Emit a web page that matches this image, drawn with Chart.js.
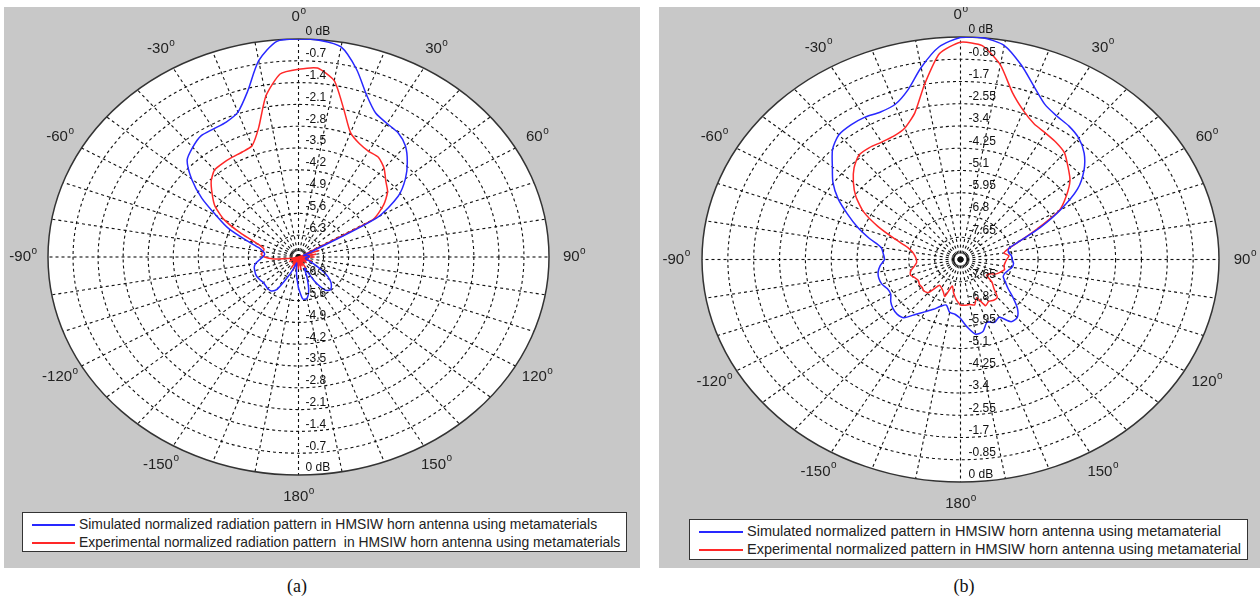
<!DOCTYPE html>
<html>
<head>
<meta charset="utf-8">
<script src="https://cdn.jsdelivr.net/npm/chart.js@4.4.1/dist/chart.umd.min.js"></script>
<style>
  body { margin: 0; width: 1260px; height: 600px; background: #fff; position: relative; overflow: hidden;
         font-family: "Liberation Sans", Arial, sans-serif; }
  .panel { position: absolute; top: 7px; height: 561px; background: #c8c8c8; }
  #panelA { left: 4px; width: 636px; }
  #panelB { left: 659px; width: 601px; }
  .panel canvas { position: absolute; left: 0; top: 0; }
  .legend { position: absolute; background: #fff; border: 1px solid #333; box-sizing: border-box; }
  .legend .item { position: absolute; white-space: nowrap; line-height: 18px; color: #222; }
  .legend .swatch { position: absolute; height: 1.5px; }
  .caption { position: absolute; top: 576px; width: 40px; text-align: center;
             font-family: "Liberation Serif", "Times New Roman", serif; font-size: 18px; color: #111; }
</style>
</head>
<body>
<div class="panel" id="panelA">
  <canvas id="chartA" width="636" height="561"></canvas>
  <div class="legend" style="left:18px; top:505px; width:605px; height:40px;">
    <div class="swatch" style="left:9px; top:11px; width:43px; background:rgb(40,40,255);"></div>
    <div class="item" style="left:56px; top:2px; font-size:13.9px;">Simulated normalized radiation pattern in HMSIW horn antenna using metamaterials</div>
    <div class="swatch" style="left:9px; top:29px; width:43px; background:rgb(255,40,40);"></div>
    <div class="item" style="left:56px; top:20px; font-size:13.9px;">Experimental normalized radiation pattern&nbsp; in HMSIW horn antenna using metamaterials</div>
  </div>
</div>
<div class="panel" id="panelB">
  <canvas id="chartB" width="601" height="561"></canvas>
  <div class="legend" style="left:30px; top:512px; width:559px; height:41px;">
    <div class="swatch" style="left:9px; top:11px; width:44px; background:rgb(40,40,255);"></div>
    <div class="item" style="left:57px; top:2px; font-size:14.5px;">Simulated normalized pattern in HMSIW horn antenna using metamaterial</div>
    <div class="swatch" style="left:9px; top:29px; width:44px; background:rgb(255,40,40);"></div>
    <div class="item" style="left:57px; top:20px; font-size:14.5px;">Experimental normalized pattern in HMSIW horn antenna using metamaterial</div>
  </div>
</div>
<div class="caption" style="left:277px;">(a)</div>
<div class="caption" style="left:944px;">(b)</div>

<script>
// Angles (deg, 0 = top, clockwise) shared by every series
const angles = [
  -180, -175, -170, -165, -160, -155, -150, -145, -140, -135, -130, -125,
  -120, -115, -110, -105, -100, -95, -90, -85, -80, -75, -70, -65,
  -60, -55, -50, -45, -40, -35, -30, -25, -20, -15, -10, -5,
  0, 5, 10, 15, 20, 25, 30, 35, 40, 45, 50, 55,
  60, 65, 70, 75, 80, 85, 90, 95, 100, 105, 110, 115,
  120, 125, 130, 135, 140, 145, 150, 155, 160, 165, 170, 175,
  180
];

// (a) normalized pattern, dB
const simA = [
  -6.0, -6.4, -6.7, -6.8, -6.6, -6.3, -5.8, -5.67, -5.67, -5.7, -5.72, -5.7,
  -5.68, -5.68, -5.7, -5.72, -5.78, -5.9, -6.0, -6.05, -6.0, -5.85, -5.45, -4.85,
  -4.35, -3.7, -3.1, -2.6, -2.4, -2.25, -2.25, -2.22, -2.05, -1.5, -0.6, -0.05,
  0, -0.02, -0.15, -0.75, -1.45, -1.9, -2.05, -2.14, -2.35, -2.7, -3.1, -3.6,
  -4.45, -6.6, -6.85, -6.8, -6.75, -6.7, -6.7, -6.75, -6.8, -6.8, -6.75, -6.6,
  -6.4, -6.1, -5.85, -5.7, -5.62, -5.7, -6.1, -6.6, -6.3, -5.9, -5.65, -5.65,
  -6.0
];
const measA = [
  -6.6, -7, -6.6, -7, -6.55, -7, -6.6, -7, -6.75, -7, -6.8, -7,
  -6.7, -7, -6.8, -7, -6.7, -6.3, -6.05, -5.95, -6.0, -6.0, -5.8, -5.25,
  -4.6, -4.15, -3.85, -3.55, -3.35, -3.32, -3.3, -3.28, -3.2, -2.7, -1.75, -1.1,
  -0.97, -0.91, -1.25, -2.1, -2.75, -2.98, -3.08, -3.1, -3.28, -3.55, -3.75, -4.1,
  -4.6, -6.8, -6.4, -7, -6.5, -7, -6.55, -7, -6.7, -7, -6.6, -7,
  -6.75, -7, -6.7, -7, -6.8, -7, -6.6, -7, -6.7, -6.9, -6.6, -7,
  -6.6
];

// (b) normalized pattern, dB
const simB = [
  -6.25, -6.4, -6.45, -6.7, -6.6, -6.4, -6.2, -5.95, -5.6, -5.55, -5.6, -5.7,
  -5.85, -5.85, -5.75, -5.72, -5.75, -5.85, -6.0, -5.95, -5.85, -5.4, -4.9, -4.4,
  -3.85, -3.38, -3.0, -2.55, -2.28, -2.22, -2.22, -2.28, -2.2, -1.8, -1.05, -0.35,
  -0.02, 0, -0.2, -0.8, -1.45, -1.95, -2.17, -2.28, -2.45, -2.75, -3.2, -3.8,
  -4.7, -5.6, -6.4, -6.85, -6.9, -6.82, -6.8, -6.75, -6.78, -6.88, -6.95, -6.95,
  -6.8, -6.6, -6.25, -5.85, -5.6, -5.6, -5.95, -5.85, -5.95, -5.65, -5.6, -5.9,
  -6.25
];
const measB = [
  -6.75, -6.95, -7.2, -7.45, -7.0, -7.15, -7.25, -7.3, -6.85, -6.8, -6.85, -6.85,
  -6.9, -6.85, -6.75, -6.8, -6.95, -7.05, -7.05, -7.0, -6.9, -6.7, -6.2, -5.5,
  -4.8, -4.3, -3.9, -3.55, -3.3, -3.28, -3.32, -3.3, -3.15, -2.7, -1.7, -0.6,
  -0.2, -0.3, -0.95, -1.9, -2.45, -2.78, -2.92, -3.03, -3.18, -3.5, -3.8, -4.25,
  -4.75, -5.7, -6.4, -6.85, -7.05, -6.9, -6.98, -7.03, -7.05, -7.0, -7.1, -7.2,
  -7.4, -7.45, -7.15, -6.95, -6.62, -6.6, -6.65, -6.55, -6.95, -6.7, -6.75, -6.75,
  -6.75
];

// tick labels
const angleTicks = [0, 30, 60, 90, 120, 150, 180, -150, -120, -90, -60, -30];
const dbTicksA = [0, -0.7, -1.4, -2.1, -2.8, -3.5, -4.2, -4.9, -5.6, -6.3];
const dbTicksB = [0, -0.85, -1.7, -2.55, -3.4, -4.25, -5.1, -5.95, -6.8, -7.65];

const BLUE = 'rgb(40,40,255)';
const RED = 'rgb(255,40,40)';

// polar (deg, dB) -> x/y in dB-above-floor units, mapped by the linear scales
function toXY(db, floor) {
  return angles.map((a, i) => {
    const r = Math.max(0, db[i] - floor);
    const t = a * Math.PI / 180;
    return { x: r * Math.sin(t), y: r * Math.cos(t) };
  });
}

function geom(chart, range) {
  const xs = chart.scales.x, ys = chart.scales.y;
  const cx = xs.getPixelForValue(0), cy = ys.getPixelForValue(0);
  return { cx, cy, rx: xs.getPixelForValue(range) - cx, ry: cy - ys.getPixelForValue(range) };
}

const polarGrid = {
  id: 'polarGrid',
  beforeDatasetsDraw(chart, args, opts) {
    const ctx = chart.ctx;
    const { cx, cy, rx, ry } = geom(chart, opts.range);
    ctx.save();
    ctx.beginPath();
    ctx.ellipse(cx, cy, rx, ry, 0, 0, 2 * Math.PI);
    ctx.fillStyle = '#fff';
    ctx.fill();

    ctx.setLineDash([3, 3]);
    ctx.strokeStyle = '#111';
    ctx.lineWidth = 1.1;
    for (let k = 1; k < opts.ticks.length; k++) {
      const f = k / opts.ticks.length;
      ctx.beginPath();
      ctx.ellipse(cx, cy, rx * f, ry * f, 0, 0, 2 * Math.PI);
      ctx.stroke();
    }
    for (let a = 0; a < 360; a += 10) {
      const t = a * Math.PI / 180;
      ctx.beginPath();
      ctx.moveTo(cx, cy);
      ctx.lineTo(cx + rx * Math.sin(t), cy - ry * Math.cos(t));
      ctx.stroke();
    }
    ctx.setLineDash([]);
    ctx.strokeStyle = '#333';
    ctx.lineWidth = 1.5;
    ctx.beginPath();
    ctx.ellipse(cx, cy, rx, ry, 0, 0, 2 * Math.PI);
    ctx.stroke();
    ctx.restore();
  },
  afterDatasetsDraw(chart, args, opts) {
    const ctx = chart.ctx;
    const { cx, cy, rx, ry } = geom(chart, opts.range);
    ctx.save();
    ctx.fillStyle = '#222';
    ctx.textBaseline = 'middle';
    ctx.textAlign = 'left';
    // angle labels at 1.1 R
    angleTicks.forEach(a => {
      const t = a * Math.PI / 180;
      const px = cx + 1.1 * rx * Math.sin(t), py = cy - 1.1 * ry * Math.cos(t);
      const s = String(a);
      ctx.font = '15px "Liberation Sans", Arial, sans-serif';
      const w1 = ctx.measureText(s).width;
      ctx.font = '10px "Liberation Sans", Arial, sans-serif';
      const w2 = ctx.measureText('o').width;
      const x0 = px - (w1 + w2) / 2;
      ctx.font = '15px "Liberation Sans", Arial, sans-serif';
      ctx.fillText(s, x0, py);
      ctx.font = '10px "Liberation Sans", Arial, sans-serif';
      ctx.fillText('o', x0 + w1 + 0.5, py - 6);
    });
    // dB labels along the 0 / 180 line
    ctx.font = '12px "Liberation Sans", Arial, sans-serif';
    ctx.fillStyle = '#111';
    const n = opts.ticks.length;
    opts.ticks.forEach((v, k) => {
      const f = (n - k) / n;
      const s = v === 0 ? '0 dB' : String(v);
      ctx.fillText(s, cx + opts.labelDx, cy - f * ry - 7);
      ctx.fillText(s, cx + opts.labelDx, cy + f * ry - 7);
    });
    ctx.restore();
  }
};

function makeChart(id, sim, meas, ticks, padding, labelDx) {
  const floor = ticks[ticks.length - 1] - (ticks[0] - ticks[1]);
  const range = -floor;
  new Chart(document.getElementById(id), {
    type: 'scatter',
    data: {
      datasets: [
        { label: 'Simulated', data: toXY(sim, floor), showLine: true, borderColor: BLUE,
          borderWidth: 1.5, pointRadius: 0, tension: 0.25 },
        { label: 'Experimental', data: toXY(meas, floor), showLine: true, borderColor: RED,
          borderWidth: 1.5, pointRadius: 0, tension: 0.2 }
      ]
    },
    options: {
      responsive: false,
      animation: false,
      layout: { padding },
      scales: {
        x: { type: 'linear', min: -range, max: range, display: false },
        y: { type: 'linear', min: -range, max: range, display: false }
      },
      plugins: {
        legend: { display: false },
        tooltip: { enabled: false },
        polarGrid: { range, ticks, labelDx }
      }
    },
    plugins: [polarGrid]
  });
}

makeChart('chartA', simA, measA, dbTicksA, { left: 44, right: 91, top: 32, bottom: 93 }, 7);
makeChart('chartB', simB, measB, dbTicksB, { left: 43, right: 41, top: 30, bottom: 86 }, 8);
</script>
</body>
</html>
